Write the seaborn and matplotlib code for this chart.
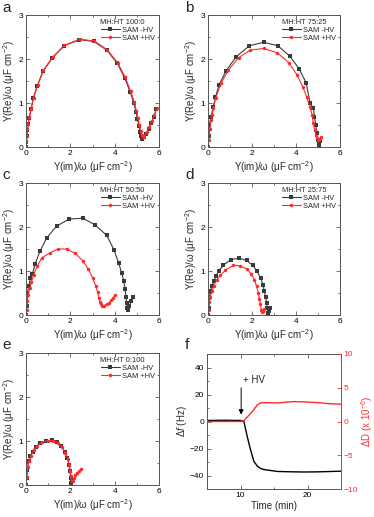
import numpy as np
import pandas as pd
import matplotlib
matplotlib.use("Agg")
import matplotlib.pyplot as plt
from matplotlib.ticker import MultipleLocator
import seaborn as sns

# ---- data ----
# panel a  MH:HT 100:0
a_neg_x = [0.01, 0.02, 0.04, 0.06, 0.1, 0.15, 0.23, 0.33, 0.5, 0.77, 1.18, 1.72, 2.41, 3.06, 3.65, 4.12, 4.46,
           4.7, 4.86, 4.96, 5.03, 5.09, 5.15, 5.2, 5.25, 5.32, 5.42, 5.53, 5.65, 5.76, 5.88]
a_neg_y = [0.0, 0.12, 0.25, 0.38, 0.52, 0.67, 0.86, 1.11, 1.38, 1.72, 2.02, 2.3, 2.44, 2.4, 2.2, 1.9, 1.56,
           1.25, 1.01, 0.8, 0.63, 0.48, 0.35, 0.25, 0.19, 0.22, 0.3, 0.41, 0.54, 0.68, 0.86]
a_pos_x = [0.01, 0.02, 0.04, 0.06, 0.1, 0.15, 0.23, 0.34, 0.52, 0.78, 1.2, 1.73, 2.42, 3.08, 3.66, 4.14, 4.48,
           4.72, 4.88, 4.98, 5.05, 5.11, 5.17, 5.22, 5.27, 5.34, 5.44, 5.55, 5.67, 5.78, 5.9]
a_pos_y = [0.0, 0.13, 0.26, 0.4, 0.53, 0.68, 0.87, 1.12, 1.4, 1.74, 2.04, 2.31, 2.45, 2.41, 2.21, 1.91, 1.58,
           1.27, 1.03, 0.82, 0.65, 0.5, 0.37, 0.27, 0.22, 0.25, 0.33, 0.45, 0.58, 0.72, 0.88]

# panel b  MH:HT 75:25
b_neg_x = [0.01, 0.03, 0.06, 0.14, 0.24, 0.34, 0.5, 0.82, 1.28, 1.88, 2.53, 3.18, 3.73, 4.15, 4.46, 4.64,
           4.79, 4.84, 4.9, 4.95, 5.0, 5.03, 5.05, 5.06, 5.07]
b_neg_y = [0.0, 0.25, 0.5, 0.69, 0.92, 1.13, 1.41, 1.73, 2.05, 2.3, 2.38, 2.3, 2.06, 1.77, 1.46, 1.0,
           0.88, 0.69, 0.5, 0.31, 0.16, 0.08, 0.03, 0.07, 0.13]
b_pos_x = [0.01, 0.03, 0.08, 0.14, 0.2, 0.24, 0.35, 0.6, 0.93, 1.39, 1.92, 2.53, 3.15, 3.66, 4.05, 4.31,
           4.49, 4.63, 4.73, 4.79, 4.85, 4.9, 4.95, 5.0, 5.05, 5.1, 5.14]
b_pos_y = [0.0, 0.15, 0.42, 0.61, 0.73, 0.88, 1.11, 1.46, 1.75, 2.03, 2.2, 2.24, 2.14, 1.92, 1.64, 1.36,
           1.13, 0.92, 0.73, 0.54, 0.39, 0.27, 0.2, 0.15, 0.15, 0.18, 0.22]

# panel c  MH:HT 50:50
c_neg_x = [0.01, 0.03, 0.06, 0.12, 0.2, 0.29, 0.41, 0.63, 0.93, 1.38, 1.95, 2.56, 3.11, 3.64, 3.97, 4.18,
           4.32, 4.41, 4.47, 4.51, 4.54, 4.57, 4.6, 4.66, 4.74, 4.81]
c_neg_y = [0.0, 0.2, 0.5, 0.65, 0.84, 0.93, 1.16, 1.45, 1.75, 2.02, 2.18, 2.2, 2.05, 1.81, 1.48, 1.18,
           0.95, 0.77, 0.59, 0.42, 0.27, 0.16, 0.12, 0.2, 0.31, 0.42]
c_pos_x = [0.01, 0.03, 0.06, 0.1, 0.17, 0.24, 0.35, 0.5, 0.72, 1.07, 1.44, 1.83, 2.23, 2.56, 2.81, 3.01,
           3.14, 3.23, 3.29, 3.34, 3.38, 3.44, 3.53, 3.64, 3.74, 3.85, 3.94, 4.02]
c_pos_y = [0.0, 0.12, 0.31, 0.46, 0.61, 0.75, 0.92, 1.11, 1.3, 1.41, 1.5, 1.5, 1.4, 1.23, 1.05, 0.84,
           0.67, 0.52, 0.39, 0.3, 0.24, 0.2, 0.21, 0.25, 0.27, 0.33, 0.39, 0.46]

# panel d  MH:HT 25:75
d_neg_x = [0.01, 0.03, 0.06, 0.11, 0.17, 0.26, 0.36, 0.5, 0.7, 1.03, 1.42, 1.76, 2.03, 2.24, 2.39, 2.5,
           2.56, 2.62, 2.67, 2.7, 2.73, 2.77, 2.83]
d_neg_y = [0.0, 0.15, 0.39, 0.54, 0.65, 0.77, 0.89, 1.01, 1.13, 1.26, 1.29, 1.24, 1.13, 0.99, 0.84, 0.69,
           0.54, 0.4, 0.27, 0.16, 0.05, 0.08, 0.16]
d_pos_x = [0.01, 0.03, 0.06, 0.11, 0.18, 0.27, 0.39, 0.56, 0.79, 1.15, 1.45, 1.76, 1.97, 2.11, 2.21, 2.29,
           2.33, 2.38, 2.42, 2.45, 2.52, 2.56]
d_pos_y = [0.0, 0.12, 0.3, 0.42, 0.55, 0.67, 0.8, 0.9, 1.02, 1.13, 1.12, 1.05, 0.93, 0.8, 0.65, 0.5,
           0.37, 0.25, 0.12, 0.07, 0.1, 0.14]

# panel e  MH:HT 0:100
e_neg_x = [0.01, 0.03, 0.06, 0.12, 0.2, 0.3, 0.44, 0.63, 0.89, 1.17, 1.41, 1.6, 1.75, 1.86, 1.94, 1.98,
           2.01, 2.03, 2.06]
e_neg_y = [0.0, 0.15, 0.35, 0.54, 0.65, 0.76, 0.86, 0.95, 1.0, 1.02, 0.97, 0.88, 0.75, 0.61, 0.46, 0.31,
           0.16, 0.05, 0.08]
e_pos_x = [0.01, 0.03, 0.08, 0.14, 0.23, 0.35, 0.51, 0.72, 0.98, 1.23, 1.45, 1.63, 1.78, 1.88, 1.95, 2.0,
           2.03, 2.06, 2.11, 2.17, 2.23, 2.3, 2.39, 2.5]
e_pos_y = [0.0, 0.18, 0.42, 0.55, 0.67, 0.8, 0.89, 0.97, 1.01, 1.01, 0.95, 0.86, 0.73, 0.59, 0.45, 0.31,
           0.2, 0.1, 0.1, 0.16, 0.22, 0.27, 0.32, 0.36]

ratios = ["MH:HT 100:0", "MH:HT 75:25", "MH:HT 50:50", "MH:HT 25:75", "MH:HT 0:100"]

# panel f  QCM-D
f_time = [5, 6, 7, 8, 9, 10, 10.5, 11, 11.5, 12, 12.5, 13, 13.5, 14.5, 15.5, 17, 18, 19.5, 21.5, 23, 25]
f_df = [0.8, 0.8, 0.9, 0.9, 0.8, 0.8, 0.0, -11, -21, -29.5, -33, -34.8, -35.6, -36.3, -37, -37.2, -37.3,
        -37.4, -37.3, -37.1, -36.8]
f_dd = [0.0, 0.0, 0.0, 0.0, 0.0, 0.0, 0.15, 0.64, 1.2, 1.75, 2.46, 2.75, 2.8, 2.78, 2.75, 2.88, 2.95, 2.9,
        2.8, 2.66, 2.56]

# ---- style ----
sns.set_theme(style="ticks")
plt.rcParams["font.family"] = ["Liberation Sans", "DejaVu Sans"]
plt.rcParams["mathtext.fontset"] = "custom"
plt.rcParams["mathtext.rm"] = "Liberation Sans"
plt.rcParams["mathtext.it"] = "Liberation Sans:italic"

BLACK = "#3a3a3a"
RED = "#ff2a2a"
SPINE = "#555555"

fig = plt.figure(figsize=(3.74, 5.17), dpi=100)

W, H = 374, 517


def box(l, t, r, b):
    return [l / W, 1 - b / H, (r - l) / W, (b - t) / H]


nyq_boxes = [box(26, 15, 159, 147), box(208, 15, 340, 147),
             box(26, 183, 159, 315), box(208, 183, 340, 315),
             box(26, 353, 159, 485)]
series = [(a_neg_x, a_neg_y, a_pos_x, a_pos_y), (b_neg_x, b_neg_y, b_pos_x, b_pos_y),
          (c_neg_x, c_neg_y, c_pos_x, c_pos_y), (d_neg_x, d_neg_y, d_pos_x, d_pos_y),
          (e_neg_x, e_neg_y, e_pos_x, e_pos_y)]


def style_ax(ax):
    ax.tick_params(which="both", direction="in", top=True, right=True, width=0.6,
                   colors=SPINE, labelcolor="black", labelsize=6, pad=2)
    ax.tick_params(which="major", length=3)
    ax.tick_params(which="minor", length=1.5)
    for s in ax.spines.values():
        s.set_color(SPINE)
        s.set_linewidth(0.7)


for bx, (nx, ny, px, py), title in zip(nyq_boxes, series, ratios):
    ax = fig.add_axes(bx)
    sns.lineplot(x=nx, y=ny, ax=ax, sort=False, estimator=None, color=BLACK, lw=0.8,
                 marker="s", markersize=2.4, markeredgewidth=0, label="SAM -HV")
    sns.lineplot(x=px, y=py, ax=ax, sort=False, estimator=None, color=RED, lw=0.8,
                 marker="o", markersize=2.5, markeredgewidth=0, label="SAM +HV")
    ax.set_xlim(0, 6)
    ax.set_ylim(0, 3)
    ax.set_xticks([0, 2, 4, 6])
    ax.set_yticks([0, 1, 2, 3])
    ax.xaxis.set_minor_locator(MultipleLocator(1))
    ax.yaxis.set_minor_locator(MultipleLocator(0.5))
    style_ax(ax)
    ax.set_xlabel("Y(im)/ω (μF cm$^{-2}$)", fontsize=7, labelpad=1.5)
    ax.set_ylabel("Y(Re)/ω (μF cm$^{-2}$)", fontsize=7, labelpad=1)
    ax.legend(title=title, loc="upper right", frameon=False, fontsize=5.4, title_fontsize=5.4,
              alignment="left", handlelength=2.6, handletextpad=0.3, labelspacing=0.1,
              borderaxespad=0.3, borderpad=0.2)

# panel f
axf = fig.add_axes(box(207, 354, 341, 489))
sns.lineplot(x=f_time, y=f_df, ax=axf, color="black", lw=1.0, estimator=None)
axf.set_xlim(5, 25)
axf.set_ylim(-50, 50)
axf.set_xticks([10, 20])
axf.set_yticks([-40, -20, 0, 20, 40])
axf.xaxis.set_minor_locator(MultipleLocator(5))
axf.yaxis.set_minor_locator(MultipleLocator(10))
style_ax(axf)
axf.tick_params(which="both", right=False)
axf.set_xlabel("Time (min)", fontsize=7, labelpad=1.5)
axf.set_ylabel("Δ$f$ (Hz)", fontsize=7, labelpad=1)
axf.annotate("", xy=(10.1, 3), xytext=(10.1, 27),
             arrowprops=dict(arrowstyle="-|>", color="black", lw=0.7, mutation_scale=7))
axf.text(10.3, 31, "+ HV", fontsize=7, va="center", ha="left")

axr = axf.twinx()
sns.lineplot(x=f_time, y=f_dd, ax=axr, color=RED, lw=1.0, estimator=None)
axr.set_ylim(-10, 10)
axr.set_yticks([-10, -5, 0, 5, 10])
axr.tick_params(axis="y", direction="in", colors=RED, labelcolor=RED, labelsize=6,
                width=0.6, length=3, pad=2)
axr.spines["right"].set_color(RED)
axr.spines["right"].set_linewidth(0.7)
for side in ["left", "top", "bottom"]:
    axr.spines[side].set_visible(False)
axr.set_ylabel("ΔD (x 10$^{-6}$)", fontsize=7, color=RED, labelpad=1)

# panel letters
for letter, (x, y) in zip("abcdef", [(2, 1), (185, 1), (2, 168), (185, 168), (2, 338), (185, 338)]):
    fig.text(x / W, 1 - y / H, letter, fontsize=11, va="top", ha="left")

fig.savefig("out.png", dpi=100)
